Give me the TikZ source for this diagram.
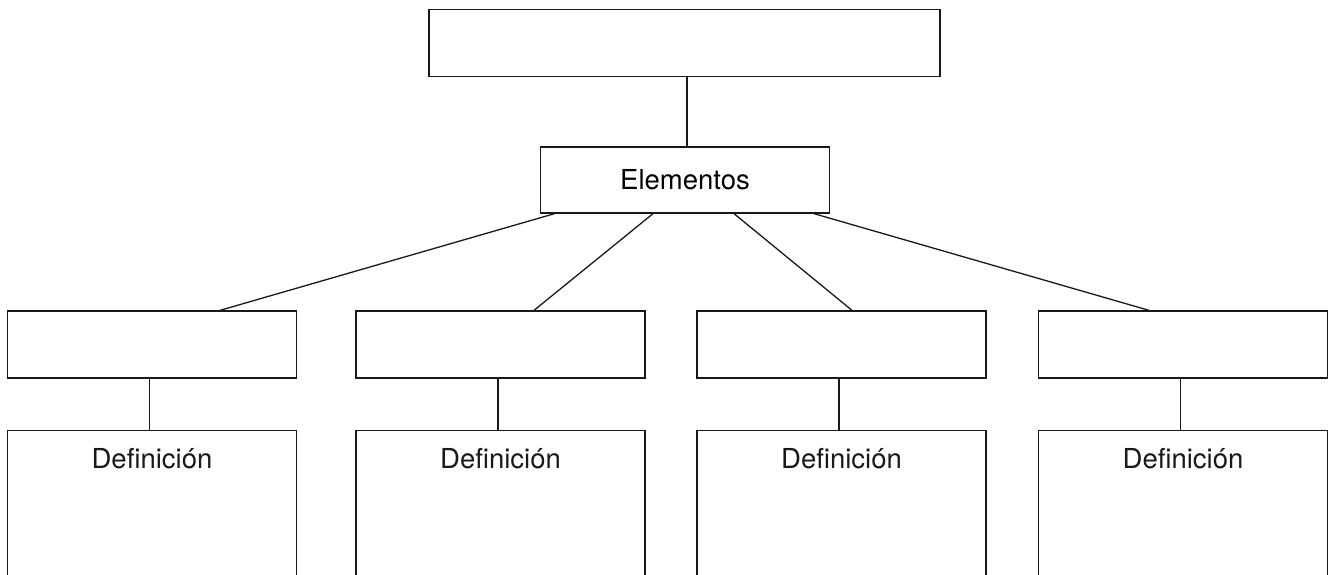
\documentclass[tikz,border=0pt]{standalone}
\usepackage{fontspec}
\setmainfont{TeX Gyre Heros}
\begin{document}
\begin{tikzpicture}[x=1pt,y=1pt,
  box/.style={draw=black!90,line width=1.3pt,rectangle,inner sep=0pt,
    font=\fontsize{27.5}{32}\selectfont},
  link/.style={draw=black!90,line width=1.3pt}]
\useasboundingbox (0,0) rectangle (1337,-574);
\fill[white] (0,0) rectangle (1337,-574);
\clip (0,0) rectangle (1337,-574);
% top box
\node[box,minimum width=511pt,minimum height=67pt] (top) at (684.5,-43) {};
\node[box,minimum width=289pt,minimum height=66pt] (elem) at (685,-180) {Elementos};
% row boxes
\foreach \i/\x in {1/152,2/500.5,3/841.5,4/1183}{
  \node[box,minimum width=289pt,minimum height=67pt] (b\i) at (\x,-344.5) {};
  \node[box,anchor=north,minimum width=289pt,minimum height=170pt] (d\i) at (\x,-430) {};
  \node[font=\fontsize{27.5}{32}\selectfont,anchor=base,text=black!90] (t\i) at ([yshift=-38pt]d\i.north) {Definición};
  \draw[link] ([xshift=-2.5pt]b\i.south) -- ([xshift=-2.5pt]d\i.north);
}
\draw[link] ([xshift=2.5pt]top.south) -- ([xshift=2pt]elem.north);
\draw[link] ([xshift=-130.5pt]elem.south) -- ([xshift=68pt]b1.north);
\draw[link] ([xshift=-32pt]elem.south) -- ([xshift=33.5pt]b2.north);
\draw[link] ([xshift=49pt]elem.south) -- ([xshift=10.5pt]b3.north);
\draw[link] ([xshift=129pt]elem.south) -- ([xshift=-34pt]b4.north);
\end{tikzpicture}
\end{document}
